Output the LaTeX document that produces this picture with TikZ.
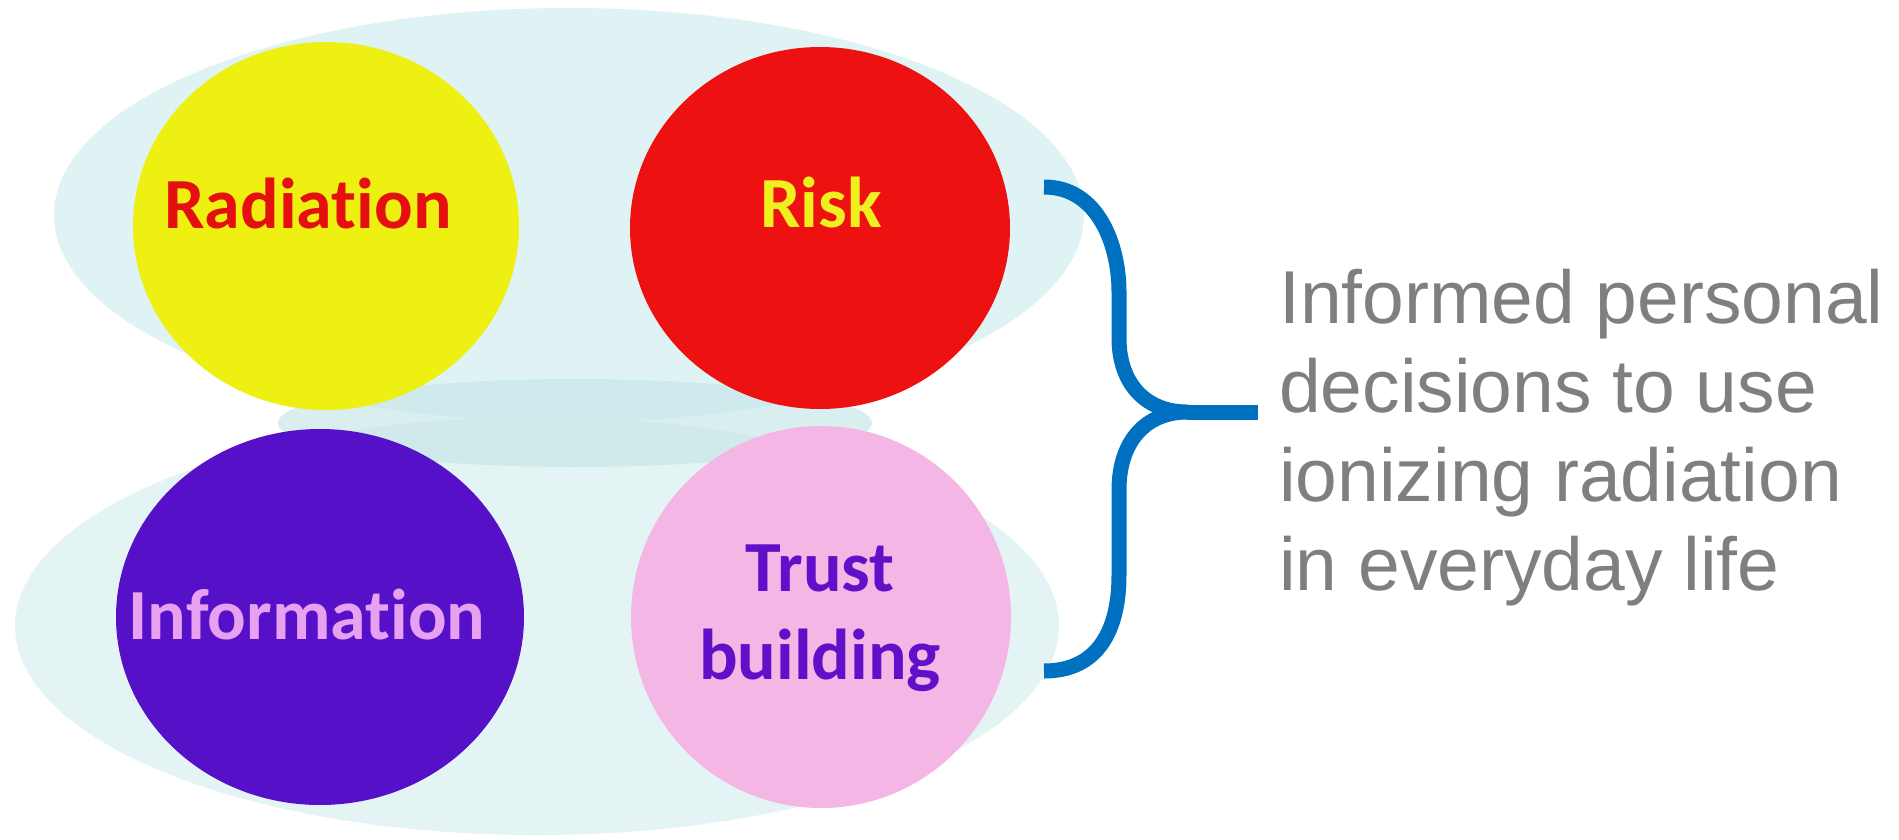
\documentclass[tikz,border=0pt]{standalone}
\usepackage{fontspec}
\setmainfont{Carlito}[Ligatures=NoCommon, Contextuals=NoAlternate]
\newfontfamily\arialf{Liberation Sans}
\usetikzlibrary{shapes.geometric}
\definecolor{bgcyan}{HTML}{E0F3F4}
\definecolor{shcyan}{HTML}{C8E7E9}
\definecolor{cyel}{HTML}{EEF011}
\definecolor{cred}{HTML}{EE1111}
\definecolor{cpur}{HTML}{5510C8}
\definecolor{cpink}{HTML}{F4B6E4}
\definecolor{tred}{HTML}{E41010}
\definecolor{tyel}{HTML}{F0F020}
\definecolor{tpink}{HTML}{E8A0F0}
\definecolor{tpur}{HTML}{6010C8}
\definecolor{braceblue}{HTML}{0070C0}
\definecolor{txtgray}{HTML}{7F7F7F}
\tikzset{
  blob/.style={ellipse, inner sep=0pt, draw=none},
  lbl/.style={font=\fontsize{72}{88}\selectfont\bfseries, inner sep=0pt, align=center},
  bracestyle/.style={draw=braceblue, line width=15pt, line cap=butt, line join=round}
}
\begin{document}
\begin{tikzpicture}[x=1pt,y=-1pt]
\useasboundingbox[fill=white] (0,0) rectangle (1899,839);
% background ellipses
\node[blob, fill=bgcyan, minimum width=1030pt, minimum height=414pt] (bgup) at (569,215) {};
\node[blob, fill=bgcyan, fill opacity=0.85, minimum width=1044pt, minimum height=418pt] (bglow) at (537,626) {};
\node[blob, fill=shcyan, fill opacity=0.7, minimum width=594pt, minimum height=88pt] (shadow) at (575,423) {};
% circles
\node[blob, fill=cyel, minimum width=386pt, minimum height=368pt] (rad) at (326,226) {};
\node[blob, fill=cred, minimum width=380pt, minimum height=362pt] (risk) at (820,228) {};
\node[blob, fill=cpur, minimum width=408pt, minimum height=376pt] (info) at (320,617) {};
\node[blob, fill=cpink, minimum width=380pt, minimum height=382pt] (trust) at (821,617) {};
% labels
\node[lbl, text=tred, anchor=base] (radt) at (308,228) {Radiation};
\node[lbl, text=tyel, anchor=base] (riskt) at (821,227) {Risk};
\node[lbl, text=tpink, anchor=base] (infot) at (307,639) {Information};
\node[lbl, text=tpur, anchor=center] (trustt) at (820,618) {Trust\\building};
% right text
\node[font=\arialf\fontsize{75}{89}\selectfont, text=txtgray, align=left, anchor=west, inner sep=0pt] (res) at (1279,438) {Informed personal\\decisions to use\\ionizing radiation\\in everyday life};
% brace
\coordinate (btop) at (1044,187);
\coordinate (bbot) at (1044,671);
\coordinate (btip) at (1187,412);
\coordinate (bend) at (1258,412);
\draw[bracestyle] (btop) .. controls (1098,187) and (1119,245) .. (1119,292)
  -- (1119,338) .. controls (1119,385) and (1147,412) .. (btip)
  .. controls (1147,412) and (1119,440) .. (1119,490)
  -- (1119,575) .. controls (1119,630) and (1098,671) .. (bbot);
\draw[bracestyle] (btip) -- (bend);
\end{tikzpicture}
\end{document}
